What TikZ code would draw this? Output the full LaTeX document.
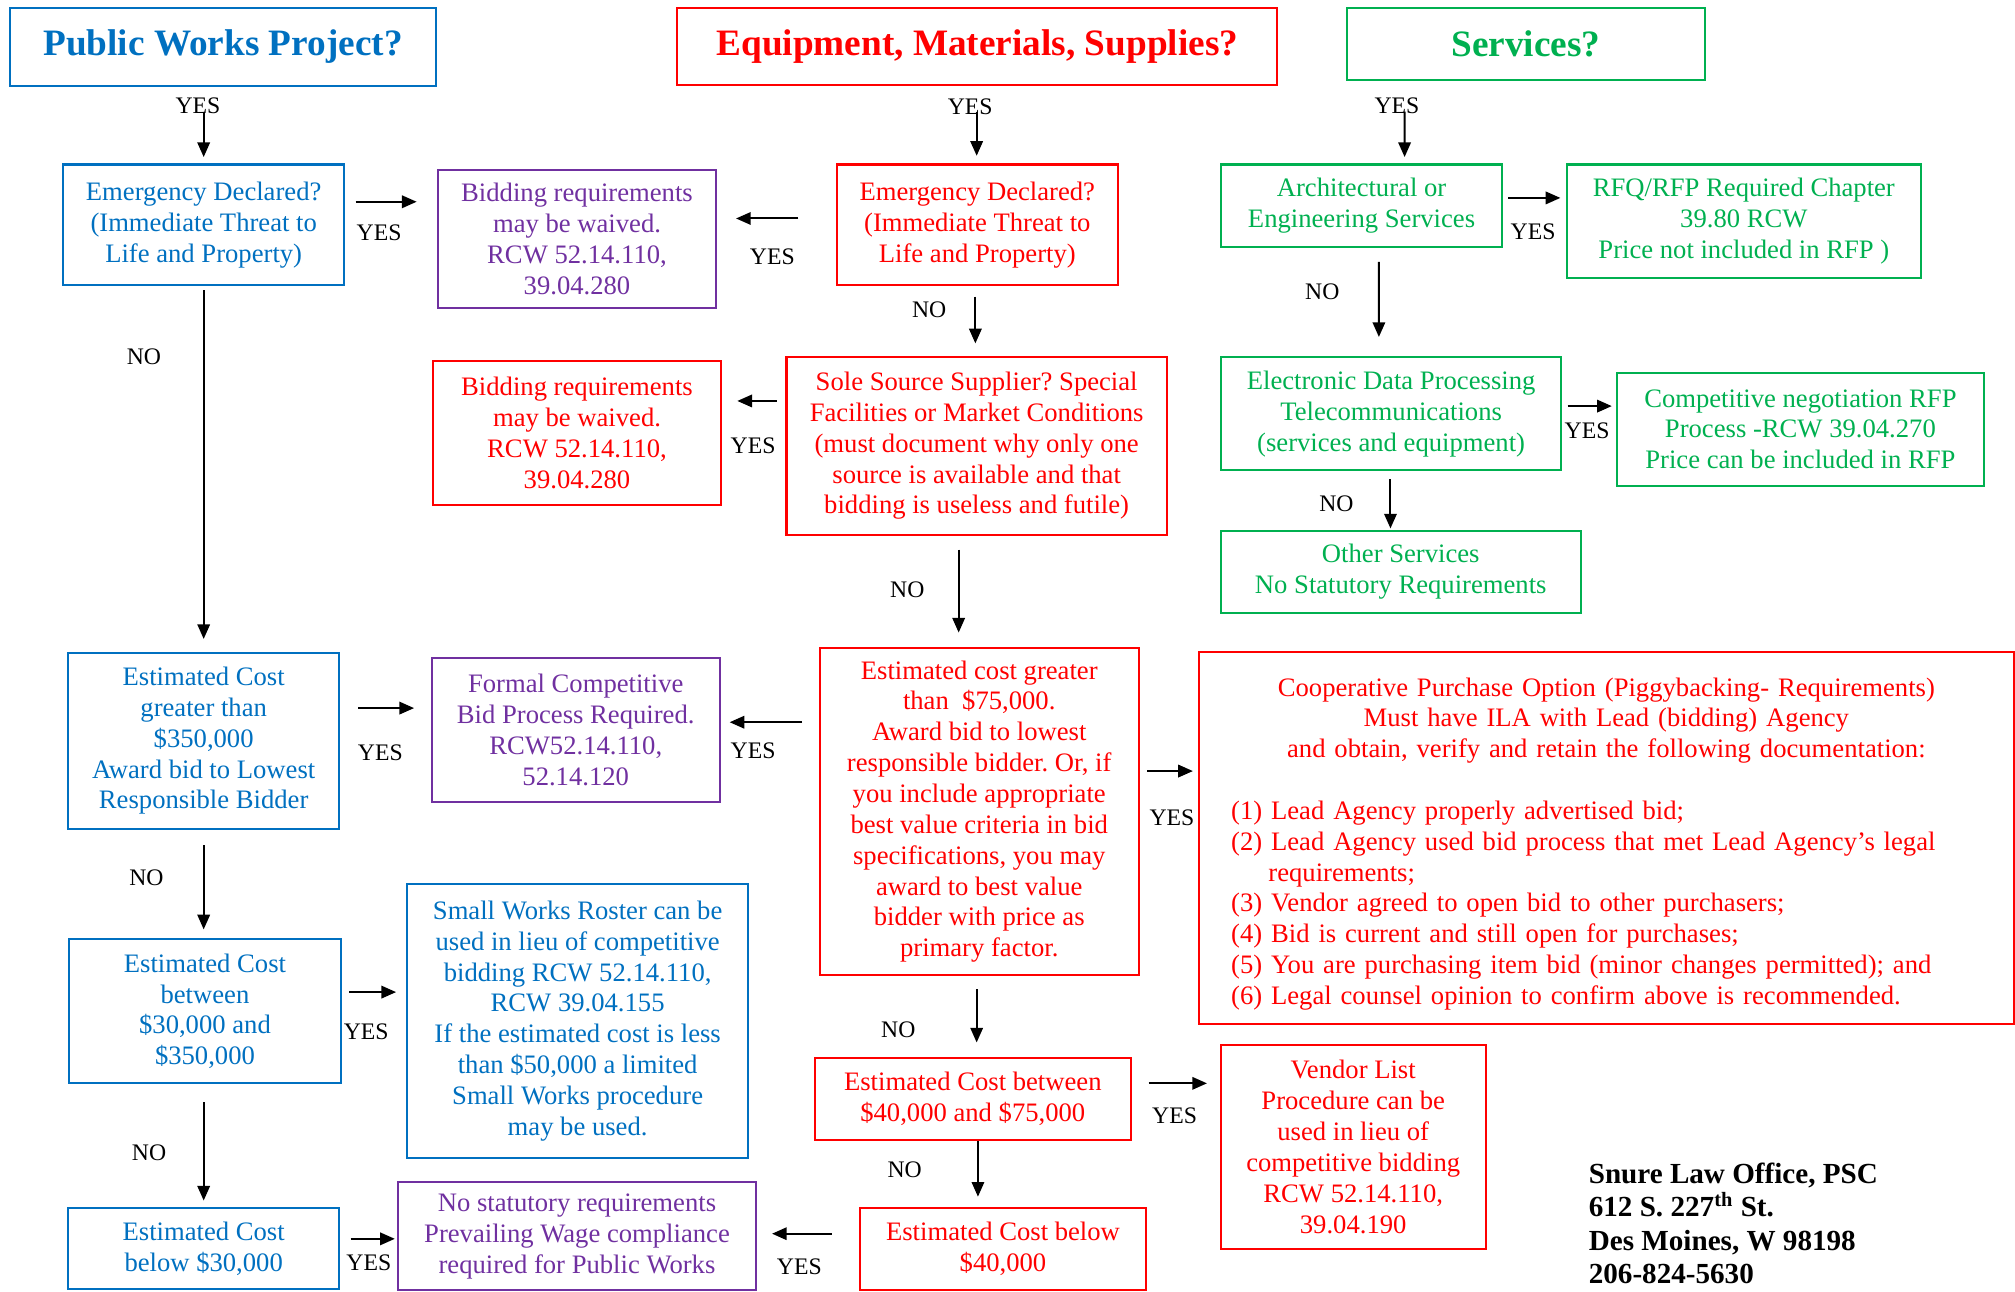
\documentclass[tikz,border=0pt]{standalone}
\usepackage{fontspec}
\setmainfont{Liberation Serif}
\usetikzlibrary{positioning,arrows.meta}
\frenchspacing

\definecolor{pwblue}{RGB}{0,112,192}
\definecolor{emred}{RGB}{255,0,0}
\definecolor{svgreen}{RGB}{0,176,80}
\definecolor{bidpurple}{RGB}{112,48,160}

\tikzset{
  basebox/.style={draw, line width=0.9pt, align=center, inner sep=0pt,
    font=\fontsize{11.8}{13.66}\selectfont},
  bluebox/.style={basebox, draw=pwblue, text=pwblue},
  redbox/.style={basebox, draw=emred, text=emred},
  greenbox/.style={basebox, draw=svgreen, text=svgreen},
  purplebox/.style={basebox, draw=bidpurple, text=bidpurple},
  titlebox/.style={font=\fontsize{16.5}{20}\selectfont\bfseries},
  lab/.style={inner sep=0pt, font=\fontsize{10.5}{12}\selectfont},
  arr/.style={-{Triangle[length=6.5pt,width=5.5pt]}, line width=0.9pt},
}

\begin{document}
\begin{tikzpicture}[x=0.02cm, y=-0.02cm]
\useasboundingbox (0,0) rectangle (1568,1005);

% titles
\node[bluebox, titlebox, minimum width=6.62cm, minimum height=1.22cm] (tPW) at (173.5,36.5) {Public Works Project?};
\node[redbox, titlebox, minimum width=9.34cm, minimum height=1.2cm] (tEMS) at (760.5,36) {Equipment, Materials, Supplies?};
\node[greenbox, titlebox, minimum width=5.58cm, minimum height=1.12cm] (tSV) at (1187.5,34) {Services?};

% public works column
\node[bluebox, minimum width=4.38cm, minimum height=1.88cm] (pEmerg) at (158.5,175) {Emergency Declared?\\(Immediate Threat to\\Life and Property)};
\node[purplebox, minimum width=4.32cm, minimum height=2.16cm] (pWaive) at (449,186) {Bidding requirements\\may be waived.\\RCW 52.14.110,\\39.04.280};
\node[bluebox, minimum width=4.22cm, minimum height=2.74cm] (pHigh) at (158.5,576.5) {Estimated Cost\\greater than\\\$350,000\\Award bid to Lowest\\Responsible Bidder};
\node[purplebox, minimum width=4.48cm, minimum height=2.24cm] (pFormal) at (448,568) {Formal Competitive\\Bid Process Required.\\RCW52.14.110,\\52.14.120};
\node[bluebox, minimum width=4.22cm, minimum height=2.24cm] (pMid) at (159.5,787) {Estimated Cost\\between\\\$30,000 and\\\$350,000};
\node[bluebox, minimum width=5.3cm, minimum height=4.26cm] (pRoster) at (449.5,794.5) {Small Works Roster can be\\used in lieu of competitive\\bidding RCW 52.14.110,\\RCW 39.04.155\\If the estimated cost is less\\than \$50,000 a limited\\Small Works procedure\\may be used.};
\node[bluebox, minimum width=4.22cm, minimum height=1.26cm] (pLow) at (158.5,971.5) {Estimated Cost\\below \$30,000};
\node[purplebox, minimum width=5.56cm, minimum height=1.68cm] (pNone) at (449,962) {No statutory requirements\\Prevailing Wage compliance\\required for Public Works};

% equipment column
\node[redbox, minimum width=4.38cm, minimum height=1.88cm] (eEmerg) at (760.5,175) {Emergency Declared?\\(Immediate Threat to\\Life and Property)};
\node[redbox, minimum width=5.92cm, minimum height=2.76cm] (eSole) at (760,347) {Sole Source Supplier? Special\\Facilities or Market Conditions\\(must document why only one\\source is available and that\\bidding is useless and futile)};
\node[redbox, minimum width=4.48cm, minimum height=2.24cm] (eWaive) at (449,337) {Bidding requirements\\may be waived.\\RCW 52.14.110,\\39.04.280};
\node[redbox, minimum width=4.96cm, minimum height=5.1cm] (eHigh) at (762,631.5) {Estimated cost greater\\than\ \ \$75,000.\\Award bid to lowest\\responsible bidder. Or, if\\you include appropriate\\best value criteria in bid\\specifications, you may\\award to best value\\bidder with price as\\primary factor.};
\node[redbox, minimum width=4.92cm, minimum height=1.28cm] (eMid) at (757,855) {Estimated Cost between\\\$40,000 and \$75,000};
\node[redbox, minimum width=4.46cm, minimum height=1.28cm] (eLow) at (780.5,972) {Estimated Cost below\\\$40,000};
\node[redbox, minimum width=4.12cm, minimum height=3.18cm] (eVendor) at (1053,892.5) {Vendor List\\Procedure can be\\used in lieu of\\competitive bidding\\RCW 52.14.110,\\39.04.190};
\node[redbox, align=left, text width=11.68cm, inner xsep=0.5cm, minimum height=5.8cm] (eCoop) at (1250,652) {{\centering\rule{0pt}{13.5pt}Cooperative Purchase Option (Piggybacking- Requirements)\\Must have ILA with Lead (bidding) Agency\\and obtain, verify and retain the following documentation:\par}\vspace{13.66pt}
(1) Lead Agency properly advertised bid;\\(2) Lead Agency used bid process that met Lead Agency’s legal\\\hspace*{0.58cm}requirements;\\(3) Vendor agreed to open bid to other purchasers;\\(4) Bid is current and still open for purchases;\\(5) You are purchasing item bid (minor changes permitted); and\\(6) Legal counsel opinion to confirm above is recommended.};

% services column
\node[greenbox, minimum width=4.38cm, minimum height=1.28cm] (sArch) at (1059.5,160) {Architectural or\\Engineering Services};
\node[greenbox, minimum width=5.52cm, minimum height=1.76cm] (sRFQ) at (1357,172) {RFQ/RFP Required Chapter\\39.80 RCW\\Price not included in RFP )};
\node[greenbox, minimum width=5.3cm, minimum height=1.76cm] (sEDP) at (1082.5,322) {Electronic Data Processing\\Telecommunications\\(services and equipment)};
\node[greenbox, minimum width=5.72cm, minimum height=1.76cm] (sComp) at (1401,334) {Competitive negotiation RFP\\Process -RCW 39.04.270\\Price can be included in RFP};
\node[greenbox, minimum width=5.6cm, minimum height=1.28cm] (sOther) at (1090,445) {Other Services\\No Statutory Requirements};

% address
\node[inner sep=0pt, anchor=west, align=left, font=\fontsize{12.9}{14.8}\selectfont\bfseries] (addr) at (1236,952) {Snure Law Office, PSC\\612 S. 227\textsuperscript{th} St.\\Des Moines, W 98198\\206-824-5630};

% labels
\node[lab] (y1) at (154,82) {YES};
\node[lab] (y2) at (755,83) {YES};
\node[lab] (y3) at (1087,82) {YES};
\node[lab] (y4) at (295,181) {YES};
\node[lab] (y5) at (601,200) {YES};
\node[lab] (y6) at (586,347) {YES};
\node[lab] (y7) at (296,586) {YES};
\node[lab] (y8) at (586,584) {YES};
\node[lab] (y9) at (912,636) {YES};
\node[lab] (y10) at (285,803) {YES};
\node[lab] (y11) at (914,868) {YES};
\node[lab] (y12) at (287,983) {YES};
\node[lab] (y13) at (622,986) {YES};
\node[lab] (y14) at (1193,180) {YES};
\node[lab] (y15) at (1235,335) {YES};
\node[lab] (n1) at (112,278) {NO};
\node[lab] (n2) at (723,241) {NO};
\node[lab] (n3) at (706,459) {NO};
\node[lab] (n4) at (114,683) {NO};
\node[lab] (n5) at (699,801) {NO};
\node[lab] (n6) at (116,897) {NO};
\node[lab] (n7) at (704,910) {NO};
\node[lab] (n8) at (1029,227) {NO};
\node[lab] (n9) at (1040,392) {NO};

% connectors
\draw[arr] ([shift={(-15,19)}]tPW.south) -- ([shift={(0,-5)}]pEmerg.north);
\draw[arr] ([shift={(-0.5,20)}]tEMS.south) -- ([shift={(-0.5,-6)}]eEmerg.north);
\draw[arr] ([shift={(-94.5,24)}]tSV.south) -- ([shift={(33.5,-5)}]sArch.north);
\draw[arr] ([shift={(8,-18)}]pEmerg.east) -- ([shift={(-16,-29)}]pWaive.west);
\draw[arr] ([shift={(0,3)}]pEmerg.south) -- ([shift={(0,-10)}]pHigh.north);
\draw[arr] ([shift={(14,-25.5)}]pHigh.east) -- ([shift={(-13,-17)}]pFormal.west);
\draw[arr] ([shift={(0,12)}]pHigh.south) -- ([shift={(-1,-7)}]pMid.north);
\draw[arr] ([shift={(6,-15)}]pMid.east) -- ([shift={(-8,-22.5)}]pRoster.west);
\draw[arr] ([shift={(-1,14)}]pMid.south) -- ([shift={(0,-5)}]pLow.north);
\draw[arr] ([shift={(8,-7.5)}]pLow.east) -- ([shift={(-2,2)}]pNone.west);
\draw[arr] ([shift={(-29,-5)}]eEmerg.west) -- ([shift={(15,-16)}]pWaive.east);
\draw[arr] ([shift={(-1.5,8)}]eEmerg.south) -- ([shift={(-1,-10)}]eSole.north);
\draw[arr] ([shift={(-7,-35)}]eSole.west) -- ([shift={(12,-25)}]eWaive.east);
\draw[arr] ([shift={(-14,11)}]eSole.south) -- ([shift={(-16,-11)}]eHigh.north);
\draw[arr] ([shift={(-13,-69.5)}]eHigh.west) -- ([shift={(7,-6)}]pFormal.east);
\draw[arr] ([shift={(6,-31.5)}]eHigh.east) -- ([shift={(-4,-52)}]eCoop.west);
\draw[arr] ([shift={(-2,10)}]eHigh.south) -- ([shift={(3,-11)}]eMid.north);
\draw[arr] ([shift={(13,-12)}]eMid.east) -- ([shift={(-10,-49.5)}]eVendor.west);
\draw[arr] ([shift={(4,0)}]eMid.south) -- ([shift={(-19.5,-8)}]eLow.north);
\draw[arr] ([shift={(-21,-12)}]eLow.west) -- ([shift={(12,-2)}]pNone.east);
\draw[arr] ([shift={(4,-6)}]sArch.east) -- ([shift={(-4,-18)}]sRFQ.west);
\draw[arr] ([shift={(13.5,11)}]sArch.south) -- ([shift={(-9.5,-15)}]sEDP.north);
\draw[arr] ([shift={(4,-6)}]sEDP.east) -- ([shift={(-3,-18)}]sComp.west);
\draw[arr] ([shift={(-0.5,6)}]sEDP.south) -- ([shift={(-8,-1)}]sOther.north);
\end{tikzpicture}
\end{document}
